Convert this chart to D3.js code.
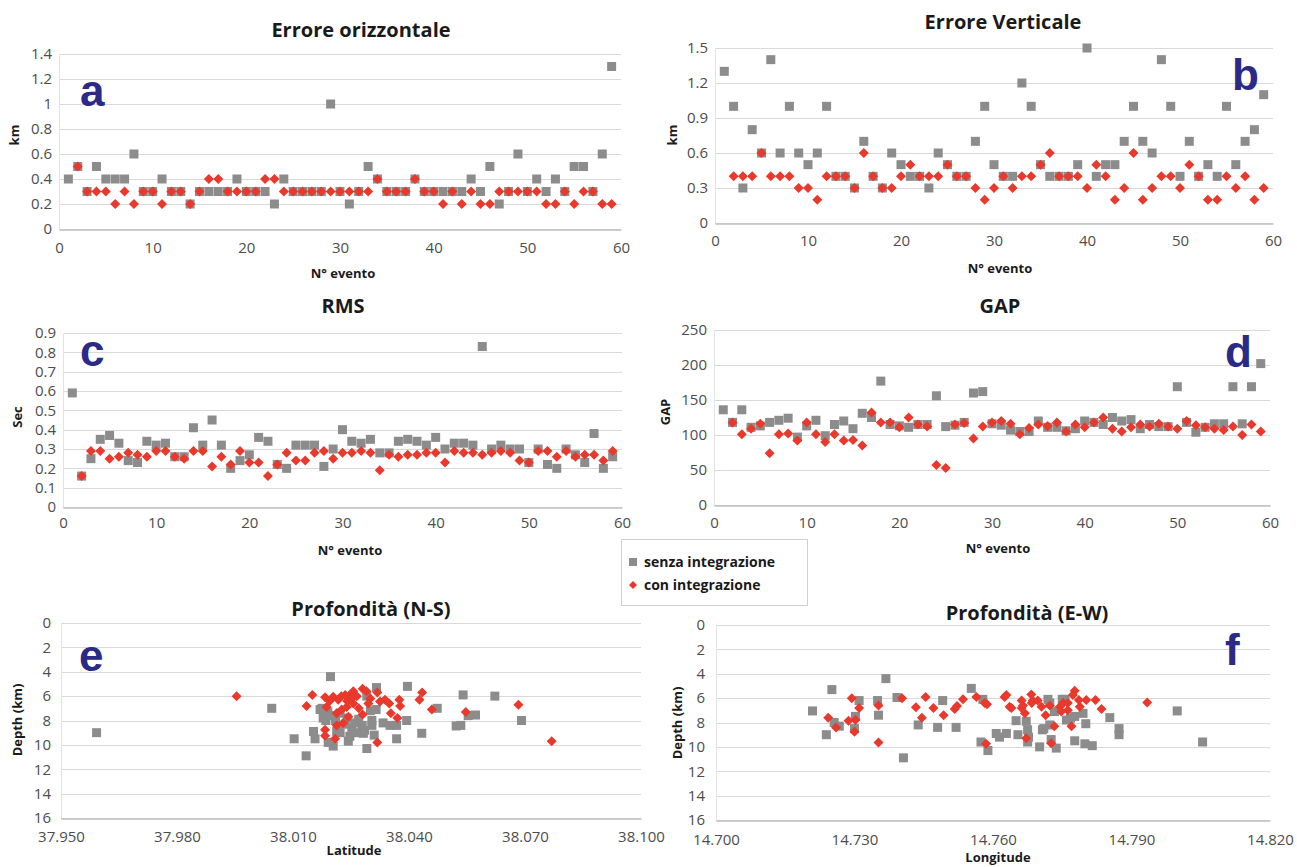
<!DOCTYPE html>
<html>
<head>
<meta charset="utf-8">
<script src="https://cdn.jsdelivr.net/npm/d3@7"></script>
<style>
  body { margin: 0; background: #fff; }
  svg { display: block; }
  text { font-family: "Open Sans", "Noto Sans", sans-serif; }
</style>
</head>
<body>
<svg></svg>
<script>
// numero evento (asse x dei primi quattro grafici)
var eventi = d3.range(1, 60)

// a : errore orizzontale (km)
var orizSenza = [0.4,0.5,0.3,0.5,0.4,0.4,0.4,0.6,0.3,0.3, 0.4,0.3,0.3,0.2,0.3,0.3,0.3,0.3,0.4,0.3,
  0.3,0.3,0.2,0.4,0.3,0.3,0.3,0.3,1.0,0.3, 0.2,0.3,0.5,0.4,0.3,0.3,0.3,0.4,0.3,0.3,
  0.3,0.3,0.3,0.4,0.3,0.5,0.2,0.3,0.6,0.3, 0.4,0.3,0.4,0.3,0.5,0.5,0.3,0.6,1.3]
var orizCon = [null,0.5,0.3,0.3,0.3,0.2,0.3,0.2,0.3,0.3, 0.2,0.3,0.3,0.2,0.3,0.4,0.4,0.3,0.3,0.3,
  0.3,0.4,0.4,0.3,0.3,0.3,0.3,0.3,0.3,0.3, 0.3,0.3,0.3,0.4,0.3,0.3,0.3,0.4,0.3,0.3,
  0.2,0.3,0.2,0.3,0.2,0.2,0.3,0.3,0.3,0.3, 0.3,0.2,0.2,0.3,0.2,0.3,0.3,0.2,0.2]

// b : errore verticale (km)
var vertSenza = [1.3,1.0,0.3,0.8,0.6,1.4,0.6,1.0,0.6,0.5, 0.6,1.0,0.4,0.4,0.3,0.7,0.4,0.3,0.6,0.5,
  0.4,0.4,0.3,0.6,0.5,0.4,0.4,0.7,1.0,0.5, 0.4,0.4,1.2,1.0,0.5,0.4,0.4,0.4,0.5,1.5,
  0.4,0.5,0.5,0.7,1.0,0.7,0.6,1.4,1.0,0.4, 0.7,0.4,0.5,0.4,1.0,0.5,0.7,0.8,1.1]
var vertCon = [null,0.4,0.4,0.4,0.6,0.4,0.4,0.4,0.3,0.3, 0.2,0.4,0.4,0.4,0.3,0.6,0.4,0.3,0.3,0.4,
  0.5,0.4,0.4,0.4,0.5,0.4,0.4,0.3,0.2,0.3, 0.4,0.3,0.4,0.4,0.5,0.6,0.4,0.4,0.4,0.3,
  0.5,0.4,0.2,0.3,0.6,0.2,0.3,0.4,0.4,0.3, 0.5,0.4,0.2,0.2,0.4,0.3,0.4,0.2,0.3]

// c : RMS (sec)
var rmsSenza = [0.59,0.16,0.25,0.35,0.37,0.33,0.24,0.23,0.34,0.32, 0.33,0.26,0.26,0.41,0.32,0.45,0.32,0.20,0.24,0.27,
  0.36,0.34,0.22,0.20,0.32,0.32,0.32,0.21,0.30,0.40, 0.34,0.33,0.35,0.28,0.28,0.34,0.35,0.34,0.32,0.36,
  0.30,0.33,0.33,0.32,0.83,0.30,0.32,0.30,0.30,0.23, 0.30,0.22,0.20,0.30,0.27,0.23,0.38,0.20,0.26]
var rmsCon = [null,0.16,0.29,0.29,0.25,0.26,0.28,0.27,0.26,0.29, 0.29,0.26,0.25,0.29,0.29,0.21,0.26,0.22,0.29,0.23,
  0.23,0.16,0.22,0.28,0.24,0.24,0.28,0.29,0.25,0.28, 0.28,0.29,0.28,0.19,0.27,0.26,0.27,0.27,0.28,0.28,
  0.23,0.29,0.28,0.28,0.27,0.28,0.29,0.28,0.24,0.23, 0.29,0.29,0.26,0.29,0.26,0.27,0.27,0.24,0.29]

// d : GAP (gradi)
var gapSenza = [136,118,136,111,113,118,121,124,97,113, 121,99,115,120,109,131,125,177,115,113,
  111,115,115,156,112,114,118,160,162,116, 114,107,105,105,120,111,111,106,109,120,
  118,115,125,120,122,109,115,112,112,169, 118,104,111,116,116,169,116,169,202]
var gapCon = [null,118,101,109,116,74,101,102,92,118, 101,90,101,92,93,85,132,118,118,111,
  125,115,112,57,53,115,117,95,112,118, 120,116,101,110,115,113,118,105,115,111,
  118,125,109,105,111,115,112,116,112,109, 120,114,111,109,107,112,100,115,105]

// e : profondita' lungo la latitudine
var latSenza = [37.9592,38.0045,38.0103,38.0134,38.0153,38.0157,38.0175,38.0180,38.0185,38.0190,
  38.0178,38.0191,38.0197,38.0204,38.0170,38.0213,38.0222,38.0243,38.0247,38.0252,
  38.0260,38.0279,38.0282,38.0291,38.0291,38.0304,38.0304,38.0315,38.0316,38.0333,
  38.0351,38.0368,38.0368,38.0394,38.0396,38.0433,38.0473,38.0522,38.0534,38.0540,
  38.0553,38.0572,38.0622,38.0691,38.0200,38.0210,38.0222,38.0235,38.0240,38.0260,
  38.0270,38.0285,38.0310,38.0300]
var profNsSenza = [9.0,7.0,9.5,10.9,8.9,9.5,7.0,7.5,8.0,7.3,
  7.8,9.8,4.4,10.1,7.1,8.9,9.0,9.7,9.3,8.6,
  9.0,8.4,9.05,10.3,6.0,8.0,8.4,7.1,5.3,8.2,
  8.4,8.4,9.5,8.0,5.2,9.05,7.0,8.45,8.4,5.9,
  7.6,7.55,6.0,8.0,7.6,8.0,7.4,8.3,7.8,8.2,
  7.9,8.8,9.2,7.2]
var latCon = [37.9954,38.0135,38.0150,38.0183,38.0183,38.0183,38.0187,38.0204,38.0217,38.0209,
  38.0213,38.0226,38.0239,38.0213,38.0230,38.0243,38.0247,38.0256,38.0252,38.0256,
  38.0280,38.0280,38.0295,38.0318,38.0318,38.0325,38.0338,38.0349,38.0353,38.0375,
  38.0377,38.0370,38.0427,38.0434,38.0459,38.0547,38.0683,38.0769,38.0195,38.0225,
  38.0265,38.0270,38.0240,38.0300,38.0235,38.0290]
var profNsCon = [6.0,6.8,5.9,6.1,8.75,9.25,6.9,6.05,6.3,9.5,
  7.4,7.1,6.9,8.4,8.2,7.7,5.9,5.6,6.2,6.6,
  5.4,7.5,6.6,5.7,9.8,6.45,6.3,6.6,7.4,6.3,
  6.8,7.8,6.3,5.7,7.1,7.3,6.7,9.7,6.4,6.0,
  6.0,7.0,6.4,6.2,5.9,5.6]

// f : profondita' lungo la longitudine
var lonSenza = [14.7209,14.7251,14.7239,14.7256,14.7267,14.7310,14.7302,14.7300,14.7350,14.7352,
  14.7368,14.7392,14.7406,14.7438,14.7480,14.7491,14.7520,14.7553,14.7574,14.7578,
  14.7589,14.7607,14.7614,14.7629,14.7650,14.7654,14.7672,14.7675,14.7677,14.7675,
  14.7701,14.7707,14.7710,14.7719,14.7723,14.7723,14.7726,14.7737,14.7733,14.7750,
  14.7756,14.7759,14.7768,14.7777,14.7777,14.7795,14.7801,14.7799,14.7815,14.7853,
  14.7873,14.7873,14.7999,14.8054]
var profEwSenza = [7.05,5.3,9.0,8.0,8.3,6.2,7.5,8.5,6.2,7.4,
  4.4,5.95,10.9,8.2,8.4,6.2,8.4,5.2,9.6,6.1,
  10.3,8.9,9.2,8.9,7.85,9.0,7.9,8.6,9.2,9.6,
  10.0,8.6,8.5,6.1,6.4,8.2,9.4,10.1,7.1,6.1,
  6.1,7.8,7.65,7.5,9.5,7.25,8.1,9.75,9.9,7.6,
  8.5,9.0,7.05,9.6]
var lonCon = [14.7243,14.7260,14.7294,14.7310,14.7302,14.7287,14.7300,14.7352,14.7352,14.7403,
  14.7433,14.7446,14.7454,14.7471,14.7493,14.7517,14.7522,14.7535,14.7564,14.7582,
  14.7587,14.7585,14.7625,14.7629,14.7636,14.7640,14.7662,14.7665,14.7662,14.7669,
  14.7683,14.7684,14.7686,14.7672,14.7697,14.7705,14.7714,14.7733,14.7726,14.7723,
  14.7745,14.7748,14.7752,14.7762,14.7762,14.7770,14.7773,14.7777,14.7786,14.7788,
  14.7802,14.7822,14.7835,14.7934]
var profEwCon = [7.6,8.4,6.0,6.8,7.8,7.85,8.75,6.6,9.65,6.0,
  6.75,7.6,5.9,6.8,7.4,6.9,6.65,6.1,5.9,6.4,
  6.5,9.75,5.9,5.75,6.7,6.8,6.2,6.6,6.8,7.25,
  5.7,6.4,6.2,9.3,6.2,6.7,7.4,8.3,9.7,6.6,
  6.7,7.1,6.4,7.0,6.4,8.3,5.75,5.4,6.15,6.7,
  6.15,6.15,6.9,6.35]

// etichette degli assi
var tickEventi = [0, 10, 20, 30, 40, 50, 60]
var tickOriz = [0, 0.2, 0.4, 0.6, 0.8, 1, 1.2, 1.4]
var tickVert = [0, 0.3, 0.6, 0.9, 1.2, 1.5]
var tickRms = [0, 0.1, 0.2, 0.3, 0.4, 0.5, 0.6, 0.7, 0.8, 0.9]
var tickGap = [0, 50, 100, 150, 200, 250]
var tickProf = [0, 2, 4, 6, 8, 10, 12, 14, 16]
var tickLat = [37.95, 37.98, 38.01, 38.04, 38.07, 38.10]
var tickLon = [14.70, 14.73, 14.76, 14.79, 14.82]

var legenda = ["senza integrazione", "con integrazione"]

var GRIGIO = "#8c8c8c"
var ROSSO = "#e8392c"
var BLU = "#2b2a86"

var canevas = d3.select("svg")
  .attr("width", 1297)
  .attr("height", 867)

function simbolo(g, tipo, px, py, colore, lato){
  if (tipo == "quadrato"){
    g.append("rect")
      .attr("x", px - lato/2)
      .attr("y", py - lato/2)
      .attr("width", lato)
      .attr("height", lato)
      .attr("fill", colore)
  } else {
    var r = lato/2
    g.append("path")
      .attr("d", "M"+px+","+(py-r)+" L"+(px+r)+","+py+" L"+px+","+(py+r)+" L"+(px-r)+","+py+" Z")
      .attr("fill", colore)
  }
}

function pannello(p){
  var x = d3.scaleLinear().domain(p.xDom).range(p.xRange)
  var y = d3.scaleLinear().domain(p.yDom).range(p.yRange)
  var base = Math.max(p.yRange[0], p.yRange[1])
  var cima = Math.min(p.yRange[0], p.yRange[1])
  var g = canevas.append("g")

  // griglia orizzontale
  g.selectAll(".griglia")
    .data(p.yTicks)
    .enter()
    .append("line")
    .attr("x1", p.xRange[0])
    .attr("x2", p.xRange[1])
    .attr("y1", function(d){return Math.round(y(d)) + 0.5})
    .attr("y2", function(d){return Math.round(y(d)) + 0.5})
    .attr("stroke", "#d9d9d9")
    .attr("stroke-width", 1.2)

  // linea verticale sinistra
  g.append("line")
    .attr("x1", p.xRange[0] + 0.5).attr("x2", p.xRange[0] + 0.5)
    .attr("y1", cima).attr("y2", base)
    .attr("stroke", "#e3e3e3")

  // asse x
  var assX = g.append("g")
    .attr("transform", "translate(0," + (Math.round(base) + 0.5) + ")")
    .call(d3.axisBottom(x).tickValues(p.xTicks).tickSize(0).tickPadding(p.padX).tickFormat(p.xFmt))
  assX.select(".domain").attr("stroke", "#bfbfbf").attr("stroke-width", 1.3)
  assX.selectAll("text").attr("fill", "#4d4d4d").style("font-size", "15px")

  // asse y
  var assY = g.append("g")
    .attr("transform", "translate(" + p.xRange[0] + ",0)")
    .call(d3.axisLeft(y).tickValues(p.yTicks).tickSize(0).tickPadding(p.padY).tickFormat(p.yFmt))
  assY.select(".domain").remove()
  assY.selectAll("text").attr("fill", "#4d4d4d").style("font-size", "15px")

  // punti : prima senza integrazione, poi con integrazione sopra
  var punti = g.append("g")
  p.xSenza.forEach(function(v, i){
    if (p.ySenza[i] != null) simbolo(punti, "quadrato", x(v), y(p.ySenza[i]), GRIGIO, p.lato)
  })
  p.xCon.forEach(function(v, i){
    if (p.yCon[i] != null) simbolo(punti, "rombo", x(v), y(p.yCon[i]), ROSSO, p.lato + 1)
  })

  // titolo
  g.append("text")
    .text(p.titolo)
    .attr("x", p.titoloX).attr("y", p.titoloY)
    .attr("text-anchor", "middle")
    .attr("fill", "#1a1a1a")
    .style("font-size", "20px").style("font-weight", "bold")

  // titolo asse x
  g.append("text")
    .text(p.nomeX)
    .attr("x", p.nomeXpos[0]).attr("y", p.nomeXpos[1])
    .attr("text-anchor", "middle")
    .attr("fill", "#1a1a1a")
    .style("font-size", "13px").style("font-weight", "bold")

  // titolo asse y
  g.append("text")
    .text(p.nomeY)
    .attr("transform", "translate(" + p.nomeYpos[0] + "," + p.nomeYpos[1] + ") rotate(-90)")
    .attr("text-anchor", "middle")
    .attr("fill", "#1a1a1a")
    .style("font-size", "13px").style("font-weight", "bold")

  // lettera del pannello
  g.append("text")
    .text(p.lettera)
    .attr("x", p.letteraPos[0]).attr("y", p.letteraPos[1])
    .attr("fill", BLU)
    .style("font-family", "'Liberation Sans', Arial, sans-serif")
    .style("font-size", "44px").style("font-weight", "bold")
}

var fmtEv = d3.format("d")
var fmtGen = function(d){return String(d)}
var fmtCoord = d3.format(".3f")

pannello({xDom:[0,60], xRange:[59,621], yDom:[0,1.4], yRange:[229,54],
  xTicks:tickEventi, yTicks:tickOriz, xFmt:fmtEv, yFmt:fmtGen, padX:13, padY:7,
  xSenza:eventi, ySenza:orizSenza, xCon:eventi, yCon:orizCon, lato:9,
  titolo:"Errore orizzontale", titoloX:361, titoloY:37,
  nomeX:"N° evento", nomeXpos:[343,278], nomeY:"km", nomeYpos:[19,135],
  lettera:"a", letteraPos:[80,106]})

pannello({xDom:[0,60], xRange:[715,1273], yDom:[0,1.5], yRange:[223,48],
  xTicks:tickEventi, yTicks:tickVert, xFmt:fmtEv, yFmt:fmtGen, padX:12, padY:7,
  xSenza:eventi, ySenza:vertSenza, xCon:eventi, yCon:vertCon, lato:9,
  titolo:"Errore Verticale", titoloX:1003, titoloY:29,
  nomeX:"N° evento", nomeXpos:[1000,273], nomeY:"km", nomeYpos:[677,135],
  lettera:"b", letteraPos:[1232,90]})

pannello({xDom:[0,60], xRange:[63,622], yDom:[0,0.9], yRange:[507,333],
  xTicks:tickEventi, yTicks:tickRms, xFmt:fmtEv, yFmt:fmtGen, padX:10, padY:7,
  xSenza:eventi, ySenza:rmsSenza, xCon:eventi, yCon:rmsCon, lato:9,
  titolo:"RMS", titoloX:343, titoloY:313,
  nomeX:"N° evento", nomeXpos:[350,555], nomeY:"Sec", nomeYpos:[22,417],
  lettera:"c", letteraPos:[80,366]})

pannello({xDom:[0,60], xRange:[714,1270], yDom:[0,250], yRange:[505,330],
  xTicks:tickEventi, yTicks:tickGap, xFmt:fmtEv, yFmt:fmtGen, padX:12, padY:7,
  xSenza:eventi, ySenza:gapSenza, xCon:eventi, yCon:gapCon, lato:9,
  titolo:"GAP", titoloX:1000, titoloY:313,
  nomeX:"N° evento", nomeXpos:[998,553], nomeY:"GAP", nomeYpos:[670,412],
  lettera:"d", letteraPos:[1225,367]})

pannello({xDom:[37.95,38.10], xRange:[61,641], yDom:[0,16], yRange:[623,818],
  xTicks:tickLat, yTicks:tickProf, xFmt:fmtCoord, yFmt:fmtGen, padX:13, padY:10,
  xSenza:latSenza, ySenza:profNsSenza, xCon:latCon, yCon:profNsCon, lato:9,
  titolo:"Profondità (N-S)", titoloX:371, titoloY:616,
  nomeX:"Latitude", nomeXpos:[354,855], nomeY:"Depth (km)", nomeYpos:[22,720],
  lettera:"e", letteraPos:[79,671]})

pannello({xDom:[14.70,14.82], xRange:[716,1270], yDom:[0,16], yRange:[625,820],
  xTicks:tickLon, yTicks:tickProf, xFmt:fmtCoord, yFmt:fmtGen, padX:14, padY:11,
  xSenza:lonSenza, ySenza:profEwSenza, xCon:lonCon, yCon:profEwCon, lato:9,
  titolo:"Profondità (E-W)", titoloX:1027, titoloY:620,
  nomeX:"Longitude", nomeXpos:[998,862], nomeY:"Depth (km)", nomeYpos:[682,723],
  lettera:"f", letteraPos:[1225,665]})

// legenda
var leg = canevas.append("g")
leg.append("rect")
  .attr("x", 621.5).attr("y", 539.5)
  .attr("width", 186).attr("height", 66)
  .attr("fill", "#fff")
  .attr("stroke", "#d0d0d0")
legenda.forEach(function(nome, i){
  var yy = 562 + i*23
  simbolo(leg, i == 0 ? "quadrato" : "rombo", 633, yy, i == 0 ? GRIGIO : ROSSO, 8)
  leg.append("text")
    .text(nome)
    .attr("x", 644).attr("y", yy + 5)
    .attr("fill", "#1a1a1a")
    .style("font-size", "14px").style("font-weight", "bold")
})
</script>
</body>
</html>
